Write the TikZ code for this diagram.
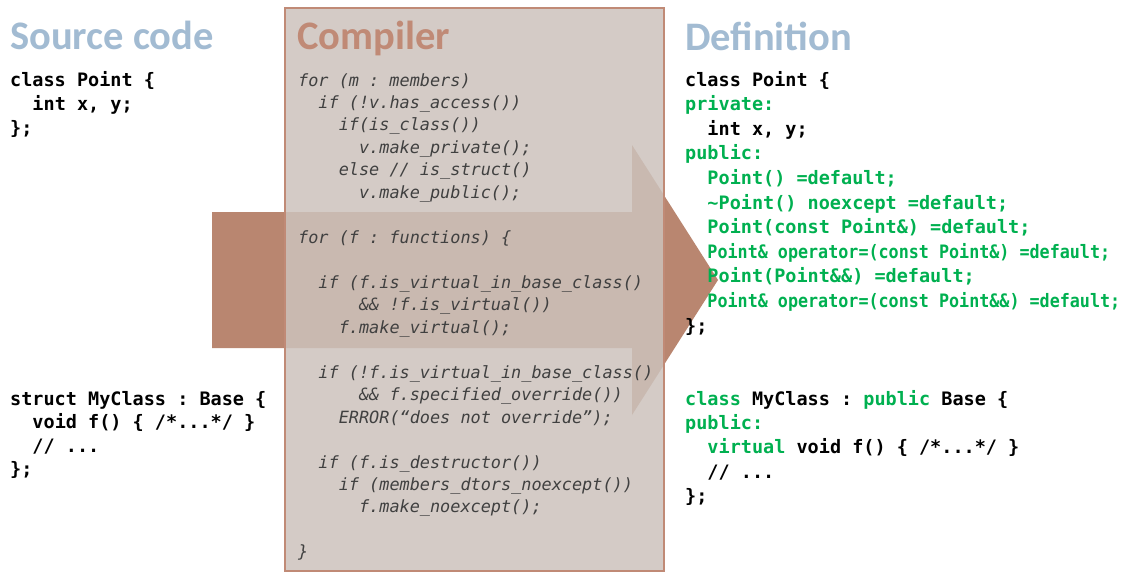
\documentclass[tikz,border=0pt]{standalone}
\usepackage{fontspec}
\setmonofont{DejaVu Sans Mono}
\newfontfamily\titlefont{Carlito}
\usepackage{xcolor}
\usepackage{graphicx}
\usetikzlibrary{positioning}
\definecolor{ttlblue}{RGB}{162,187,210}
\definecolor{cmpbrown}{RGB}{192,138,118}
\definecolor{arrowbrown}{RGB}{185,134,112}
\definecolor{boxfill}{RGB}{204,194,188}
\definecolor{codegreen}{RGB}{0,176,80}
\definecolor{codegrey}{RGB}{64,64,64}
\newcommand{\kw}[1]{\textcolor{codegreen}{#1}}
\newcommand{\pad}[1]{\hspace*{#1\fontcharwd\font`x}}
\newcommand{\squeeze}[1]{\scalebox{0.904}[1]{#1}}
\newcommand{\codebf}[1]{\fontsize{18.5}{#1}\selectfont\ttfamily\bfseries}
\newcommand{\codeit}[1]{\fontsize{16.85}{#1}\selectfont\ttfamily\itshape}

\begin{document}
\begin{tikzpicture}[
    x=1pt, y=-1pt,
    ttl/.style ={anchor=base west, inner sep=0pt,
                 font=\titlefont\bfseries\fontsize{40.5}{41}\selectfont},
    src/.style ={anchor=base west, inner sep=0pt, align=left},
    cmp/.style ={anchor=base west, inner sep=0pt, align=left, text=codegrey,
                 font=\codeit{22.47}},
]
\useasboundingbox (0,0) rectangle (1126,578);
% big arrow behind the compiler box
\fill[arrowbrown] (212,212) -- (632,212) -- (632,145) -- (718,280)
   -- (632,415) -- (632,348) -- (212,348) -- cycle;
\draw[cmpbrown, line width=2.5pt, fill=boxfill, fill opacity=0.85]
   (285,8) rectangle (664,571);
\node[ttl, text=ttlblue]  (srcttl) at (10,49)  {Source code};
\node[ttl, text=cmpbrown] (cmpttl) at (297,50) {Compiler};
\node[ttl, text=ttlblue]  (defttl) at (685,51) {Definition};
% code blocks, placed by the baseline of their last line
\node[src, font=\codebf{24}] (point) at (10,134)
   {class Point \{\\
    \pad{2}int x, y;\\
    \};};
\node[src, font=\codebf{23.5}] (myclass) at (10,475.5)
   {struct MyClass : Base \{\\
    \pad{2}void f() \{ /*...*/ \}\\
    \pad{2}// ...\\
    \};};
\node[cmp] (rules) at (298,557.9)
   {for (m : members)\\
    \pad{2}if (!v.has\_access())\\
    \pad{4}if(is\_class())\\
    \pad{6}v.make\_private();\\
    \pad{4}else // is\_struct()\\
    \pad{6}v.make\_public();\\
    \mbox{}\\
    for (f : functions) \{\\
    \mbox{}\\
    \pad{2}if (f.is\_virtual\_in\_base\_class()\\
    \pad{6}\&\& !f.is\_virtual())\\
    \pad{4}f.make\_virtual();\\
    \mbox{}\\
    \pad{2}if (!f.is\_virtual\_in\_base\_class()\\
    \pad{6}\&\& f.specified\_override())\\
    \pad{4}ERROR(“does not override”);\\
    \mbox{}\\
    \pad{2}if (f.is\_destructor())\\
    \pad{4}if (members\_dtors\_noexcept())\\
    \pad{6}f.make\_noexcept();\\
    \mbox{}\\
    \}};
\node[src, font=\codebf{24.6}] (pointdef) at (685,332)
   {class Point \{\\
    \kw{private:}\\
    \pad{2}int x, y;\\
    \kw{public:}\\
    \pad{2}\kw{Point() =default;}\\
    \pad{2}\kw{\textasciitilde Point() noexcept =default;}\\
    \pad{2}\kw{Point(const Point\&) =default;}\\
    \pad{2}\kw{\squeeze{Point\& operator=(const Point\&) =default;}}\\
    \pad{2}\kw{Point(Point\&\&) =default;}\\
    \pad{2}\kw{\squeeze{Point\& operator=(const Point\&\&) =default;}}\\
    \};};
\node[src, font=\codebf{24.4}] (myclassdef) at (685,502.6)
   {\kw{class} MyClass : \kw{public} Base \{\\
    \kw{public:}\\
    \pad{2}\kw{virtual} void f() \{ /*...*/ \}\\
    \pad{2}// ...\\
    \};};
\end{tikzpicture}
\end{document}
